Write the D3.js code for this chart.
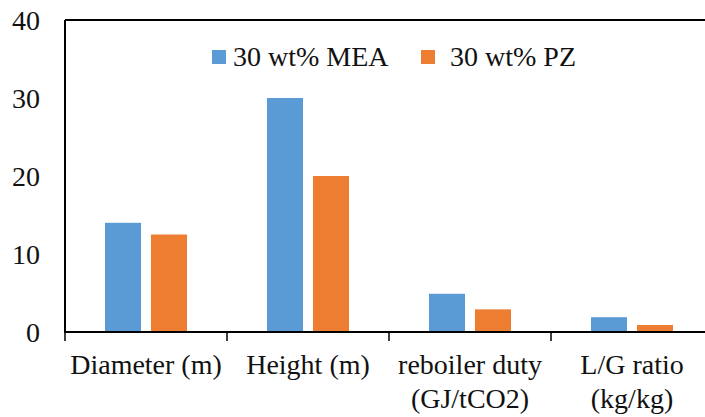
<!DOCTYPE html>
<html>
<head>
<meta charset="utf-8">
<script src="https://cdn.jsdelivr.net/npm/d3@7"></script>
<style>
  html, body { margin: 0; padding: 0; background: #fff; }
</style>
</head>
<body>
<svg id="chart" width="705" height="417"></svg>
<script>
// chart data
const categories = [["Diameter (m)"], ["Height (m)"], ["reboiler duty", "(GJ/tCO2)"], ["L/G ratio", "(kg/kg)"]];
const seriesNames = ["30 wt% MEA", "30 wt% PZ"];
const meaValues = [14, 30, 4.9, 1.9];
const pzValues = [12.5, 20, 2.9, 0.9];
const yTicks = [0, 10, 20, 30, 40];
const colors = ["#5B9BD5", "#ED7D31"];

const width = 705, height = 417;
const plotLeft = 65, plotTop = 20, plotBottom = 332;
const fontFamily = "'Liberation Serif', monospace";
const fontSize = "28px";

const svg = d3.select("#chart");

const keys = categories.map((c) => c.join(" "));

// the plot runs past the right edge of the picture
const x = d3.scaleBand()
    .domain(keys)
    .range([plotLeft, 713])
    .padding(0);

const xs = d3.scaleBand()
    .domain(seriesNames)
    .range([0, x.bandwidth()])
    .paddingInner(0.217)
    .paddingOuter(0.87);

const y = d3.scaleLinear()
    .domain([0, 40])
    .range([plotBottom, plotTop]);

const seriesValues = [meaValues, pzValues];

// bars
seriesNames.forEach((name, si) => {
    svg.append("g")
        .selectAll("rect")
        .data(seriesValues[si])
        .join("rect")
        .attr("x", (_d, i) => x(keys[i]) + xs(name))
        .attr("y", (d) => y(d))
        .attr("width", xs.bandwidth())
        .attr("height", (d) => y(0) - y(d))
        .attr("fill", colors[si]);
});

// top frame line
svg.append("line")
    .attr("x1", plotLeft).attr("x2", width)
    .attr("y1", y(40)).attr("y2", y(40))
    .attr("stroke", "#000").attr("stroke-width", 2);

// y axis
const yAxis = svg.append("g")
    .attr("transform", `translate(${plotLeft},0)`)
    .call(d3.axisLeft(y).tickValues(yTicks).tickSize(0).tickPadding(25));
yAxis.attr("font-family", null).attr("font-size", null);
yAxis.select(".domain")
    .attr("stroke", "#000").attr("stroke-width", 2)
    .attr("d", `M0,${y(40)}V${y(0)}`);
yAxis.selectAll("text")
    .style("font-family", fontFamily)
    .style("font-size", fontSize)
    .attr("fill", "#111")
    .attr("dy", "0.34em");

// x axis
const xAxis = svg.append("g")
    .attr("transform", `translate(0,${plotBottom})`);
xAxis.append("line")
    .attr("x1", plotLeft - 1).attr("x2", width)
    .attr("stroke", "#000").attr("stroke-width", 2);
xAxis.selectAll(".tick")
    .data(keys)
    .join("line")
    .attr("class", "tick")
    .attr("x1", (d) => x(d)).attr("x2", (d) => x(d))
    .attr("y1", 0).attr("y2", 9)
    .attr("stroke", "#000").attr("stroke-width", 1.5);

const labels = xAxis.selectAll(".label")
    .data(categories)
    .join("text")
    .attr("class", "label")
    .attr("text-anchor", "middle")
    .style("font-family", fontFamily)
    .style("font-size", fontSize)
    .attr("fill", "#111")
    .attr("transform", (_d, i) => `translate(${x(keys[i]) + x.bandwidth() / 2},42)`);
labels.selectAll("tspan")
    .data((d) => d)
    .join("tspan")
    .attr("x", 0)
    .attr("y", (_d, i) => i * 34)
    .text((d) => d);

// legend
const legendX = [212, 421];
const legend = svg.append("g");
seriesNames.forEach((name, si) => {
    legend.append("rect")
        .attr("x", legendX[si]).attr("y", 50)
        .attr("width", 14).attr("height", 14)
        .attr("fill", colors[si]);
    legend.append("text")
        .attr("x", legendX[si] + (si === 0 ? 21 : 29))
        .attr("y", 66)
        .style("font-family", fontFamily)
        .style("font-size", fontSize)
        .attr("fill", "#111")
        .text(name);
});
</script>
</body>
</html>
